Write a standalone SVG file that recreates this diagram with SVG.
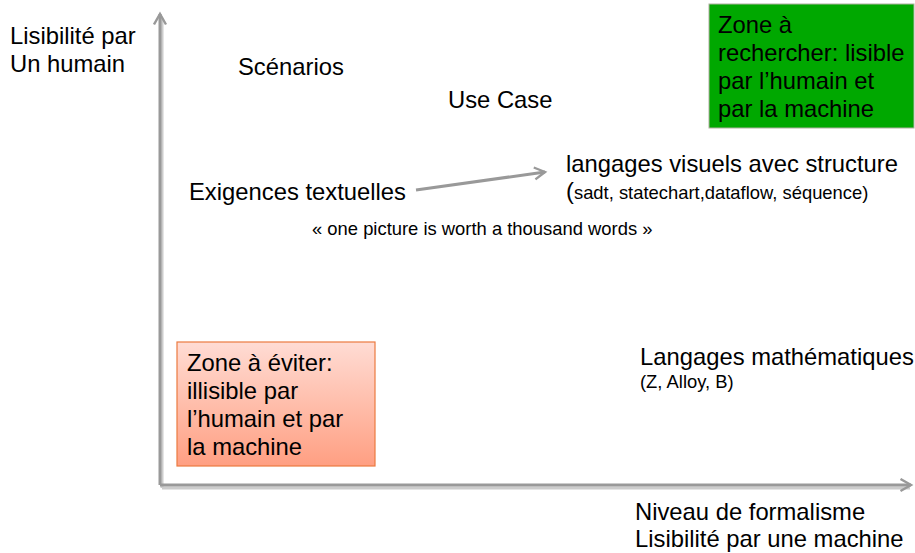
<svg xmlns="http://www.w3.org/2000/svg" width="915" height="553" viewBox="0 0 915 553">
<defs>
<style>
text{font-family:"Liberation Sans",Arial,sans-serif;fill:#000}
.t{font-size:23.8px}
.s{font-size:18.4px}
.axis{stroke:#999;stroke-width:3;fill:none}
.shadow{stroke:#ccc;stroke-width:3;fill:none}
</style>
<marker id="ah" viewBox="0 0 10 10" refX="8" refY="5" markerWidth="5" markerHeight="5" orient="auto" markerUnits="strokeWidth">
<path d="M1,1 L8,5 L1,9" fill="none" stroke="#999" stroke-width="1.6"/>
</marker>
<linearGradient id="og" x1="0" y1="0" x2="0" y2="1">
<stop offset="0" stop-color="#ffdcd4"/>
<stop offset="1" stop-color="#ff9f82"/>
</linearGradient>
</defs>
<g id="connectors">
<path class="shadow" d="M162,488 H910 M162,488 V18"/>
<path class="axis" d="M160,485 V14" marker-end="url(#ah)"/>
<path class="axis" d="M160,485 H911" marker-end="url(#ah)"/>
<path class="axis" d="M416,190 L545,172" marker-end="url(#ah)"/>
</g>
<g id="axis-y-label">
<text class="t" x="10" y="44">Lisibilité par</text>
<text class="t" x="10" y="72">Un humain</text>
</g>
<g id="axis-x-label">
<text class="t" x="635" y="520">Niveau de formalisme</text>
<text class="t" x="635" y="547">Lisibilité par une machine</text>
</g>
<g id="scenarios"><text class="t" x="238" y="75">Scénarios</text></g>
<g id="usecase"><text class="t" x="448" y="108">Use Case</text></g>
<g id="visuels">
<text class="t" x="566" y="172">langages visuels avec structure</text>
<text x="566" y="199"><tspan class="t">(</tspan><tspan class="s">sadt, statechart,dataflow, séquence)</tspan></text>
</g>
<g id="exigences"><text class="t" x="189" y="200">Exigences textuelles</text></g>
<g id="quote"><text class="s" x="312" y="235">« one picture is worth a thousand words »</text></g>
<g id="maths">
<text class="t" x="640" y="365">Langages mathématiques</text>
<text class="s" x="640" y="388">(Z, Alloy, B)</text>
</g>
<g id="zone-rechercher">
<rect x="709" y="4" width="205" height="124" fill="#00a800" stroke="#b0b0a0" stroke-width="1"/>
<text class="t" x="718" y="33">Zone à</text>
<text class="t" x="718" y="61">rechercher: lisible</text>
<text class="t" x="718" y="89">par l’humain et</text>
<text class="t" x="718" y="117">par la machine</text>
</g>
<g id="zone-eviter">
<rect x="177" y="342" width="198" height="124" fill="url(#og)" stroke="#ec7a40" stroke-width="1.2"/>
<text class="t" x="187" y="371">Zone à éviter:</text>
<text class="t" x="187" y="399">illisible par</text>
<text class="t" x="187" y="427">l’humain et par</text>
<text class="t" x="187" y="455">la machine</text>
</g>
</svg>
